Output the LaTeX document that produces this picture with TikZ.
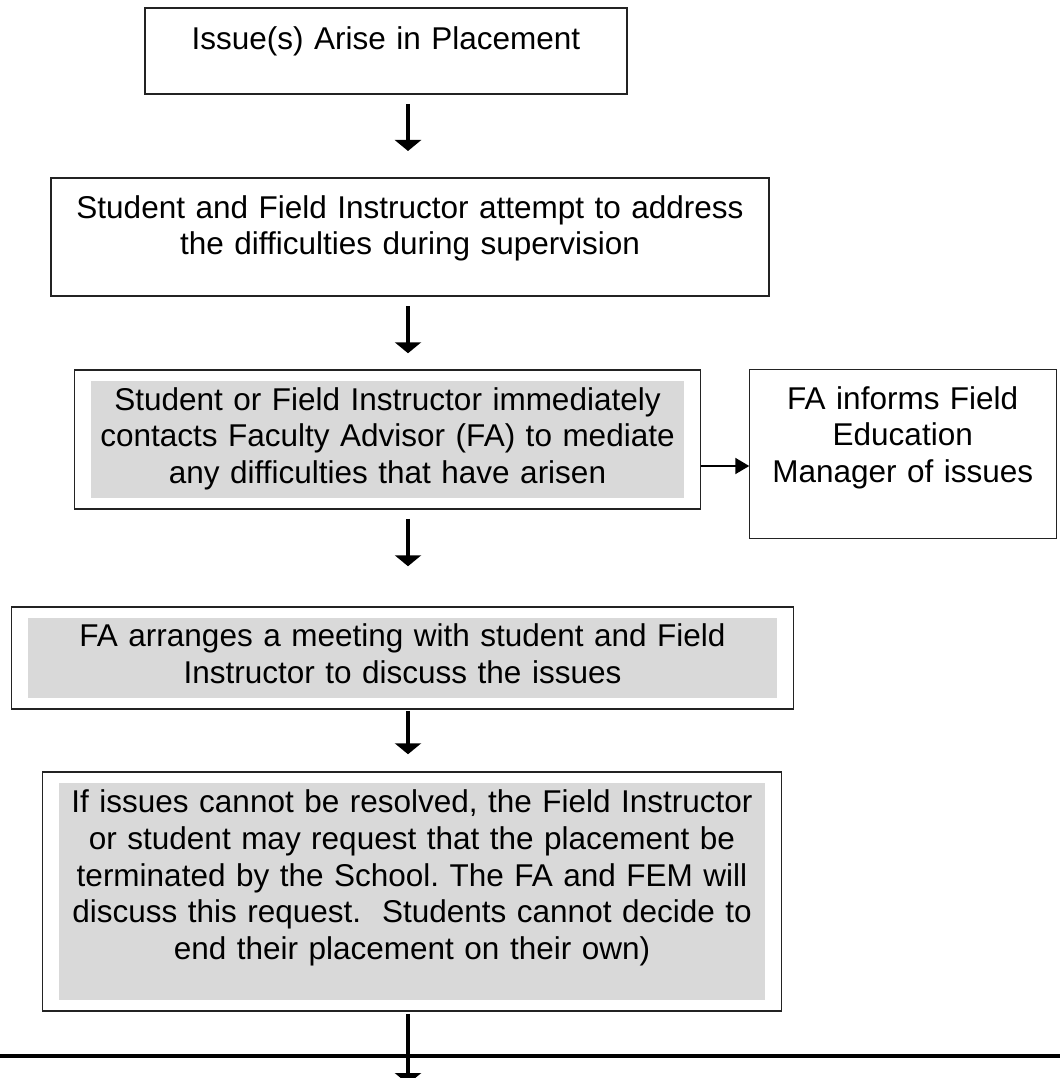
\documentclass[tikz,border=0pt]{standalone}
\usepackage{fontspec}
\setmainfont{Liberation Sans}
\usetikzlibrary{positioning,fit}
\usetikzlibrary{arrows.meta}
\definecolor{myshade}{RGB}{217,217,217}
\definecolor{myframe}{RGB}{35,35,35}
\tikzstyle{step text}=[font=\fontsize{31.5}{36.67}\selectfont\frenchspacing,align=center,inner sep=0,outer sep=0]
\tikzstyle{box}=[step text,draw=myframe,line width=1.5]
\tikzstyle{box shaded}=[step text,fill=myshade]
\tikzstyle{frame}=[draw=myframe,line width=1.5,inner xsep=16.5,inner ysep=11]
\tikzstyle{connect arrow}=[-{Triangle[length=11pt,width=26pt]},line width=4.5,black]
\tikzstyle{side arrow}=[-{Triangle[length=14pt,width=16pt]},line width=2,black]
\tikzstyle{rule}=[line width=3.3,black]

\begin{document}
\begin{tikzpicture}[x=1pt,y=-1pt]
\useasboundingbox (0,0) rectangle (1060,1078);
\clip (0,0) rectangle (1060,1078);

% Steps
\node [box, text width=482, text height=42, text depth=44, anchor=north] (issue) at (386,8)
{Issue(s) Arise in Placement};
\node [box, text width=718, text height=40.3, text depth=77.7, anchor=north] (attempt) at (410,178)
{Student and Field Instructor attempt to address\\ the difficulties during supervision};

% Shaded steps
\node [box shaded, text width=593, text height=29, text depth=88, anchor=north] (contact) at (387.5,381)
{Student or Field Instructor immediately\\ contacts Faculty Advisor (FA) to mediate\\ any difficulties that have arisen};
\node [frame, fit=(contact)] (contact frame) {};

\node [box shaded, text width=749, text height=28.7, text depth=51.3, anchor=north] (meeting) at (402.5,618)
{FA arranges a meeting with student and Field\\ Instructor to discuss the issues};
\node [frame, fit=(meeting)] (meeting frame) {};

\node [box shaded, text width=706, text height=29.7, text depth=187.3, anchor=north] (request) at (412,783)
{If issues cannot be resolved, the Field Instructor\\ or student may request that the placement be\\
terminated by the School. The FA and FEM will\\ discuss this request.\ \ Students cannot decide to\\
end their placement on their own)};
\node [frame, fit=(request)] (request frame) {};

% Side box
\node [box, text width=307, text height=40, text depth=129, anchor=north west] (inform)
at ([xshift=48]contact frame.north east)
{FA informs Field\\ Education\\ Manager of issues};

\coordinate (spine) at (408,0);
\coordinate (side) at (0,466);
\coordinate (out) at (408,1084);
\coordinate (rule west) at (0,1056);
\coordinate (rule east) at (1060,1056);

\begin{scope} [connect arrow]
    \draw [shorten <=10pt, shorten >=27pt] (issue.south -| spine) -- (attempt.north -| spine);
    \draw [shorten <=10pt, shorten >=16pt] (attempt.south -| spine) -- (contact frame.north -| spine);
    \draw [shorten <=9pt, shorten >=40pt] (contact frame.south -| spine) -- (meeting frame.north -| spine);
    \draw [shorten <=1pt, shorten >=17pt] (meeting frame.south -| spine) -- (request frame.north -| spine);
    \draw [shorten <=2pt] (request frame.south -| spine) -- (out);
\end{scope}

\draw [side arrow] (contact frame.east |- side) -- (inform.west |- side);
\draw [rule] (rule west) -- (rule east);

\end{tikzpicture}
\end{document}
